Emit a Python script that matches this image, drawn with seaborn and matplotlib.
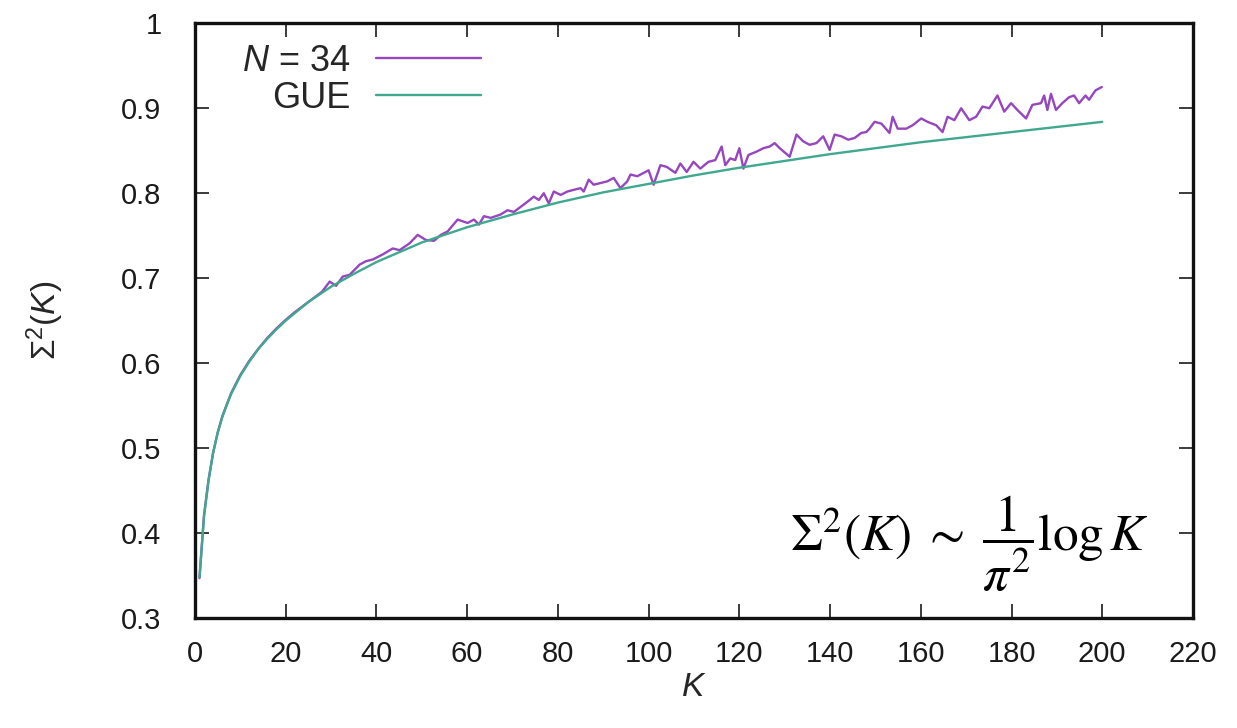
import numpy as np
import pandas as pd
import matplotlib
matplotlib.use("Agg")
import matplotlib.pyplot as plt
import seaborn as sns

# ---- data ----
gue_k = [1, 2, 3, 4, 5, 6, 7, 8, 10, 12, 14, 16, 18, 20, 25, 30, 35, 40, 50, 60,
         70, 80, 90, 100, 110, 120, 130, 140, 150, 160, 170, 180, 190, 200]
gue_v = [0.348, 0.420, 0.462, 0.495, 0.518, 0.536, 0.551, 0.564, 0.585, 0.602,
         0.617, 0.629, 0.640, 0.650, 0.672, 0.690, 0.705, 0.719, 0.742, 0.760,
         0.775, 0.789, 0.801, 0.811, 0.821, 0.830, 0.838, 0.846, 0.853, 0.860,
         0.866, 0.872, 0.878, 0.884]

n34_k = [1, 2, 3, 4, 5, 6, 8, 10, 12, 14, 16, 18, 20, 22, 24, 26, 28,
         29.7, 31.1, 32.6, 34.1, 36.3, 37.7, 39.2, 41.4, 43.6, 45.1, 47.3, 49.1, 50.9,
         52.7, 54.2, 55.7, 57.9, 60.1, 61.5, 62.6, 63.7, 65.2, 67.4, 68.9, 70.3,
         71.8, 73.3, 74.7, 75.8, 76.9, 78.0, 79.1, 80.6, 82.1, 83.5, 85.0, 85.7,
         86.8, 87.9, 89.4, 90.9, 92.3, 93.8, 95.3, 96.0, 97.5, 98.9, 100.0, 101.1,
         102.6, 104.0, 105.9, 107.0, 108.4, 109.9, 111.4, 113.2, 114.7, 116.1,
         116.9, 118.0, 119.1, 120.0, 120.9, 122.0, 123.8, 125.3, 126.7, 127.8,
         128.9, 131.1, 132.6, 134.1, 135.5, 137.0, 138.5, 139.9, 141.0, 142.5,
         144.0, 145.4, 146.9, 148.0, 148.7, 149.8, 151.3, 153.1, 153.8, 154.9,
         156.8, 158.2, 160.1, 161.5, 163.4, 164.8, 165.9, 167.4, 168.9, 170.7,
         172.2, 173.6, 175.1, 176.9, 178.4, 179.9, 181.3, 183.2, 184.6, 186.5,
         187.2, 187.9, 188.7, 189.8, 191.2, 192.7, 193.8, 194.9, 196.3, 197.1,
         198.5, 199.9]
n34_v = [0.347, 0.421, 0.463, 0.494, 0.518, 0.537, 0.565, 0.586, 0.603, 0.617,
         0.630, 0.641, 0.651, 0.660, 0.668, 0.676, 0.684,
         0.696, 0.691, 0.702, 0.704, 0.716, 0.720, 0.722, 0.728, 0.735, 0.733,
         0.741, 0.751, 0.745,
         0.744, 0.751, 0.755, 0.769, 0.765, 0.769, 0.763, 0.773, 0.771, 0.775,
         0.780, 0.778, 0.784, 0.790, 0.796, 0.792, 0.800, 0.788, 0.802, 0.798,
         0.802, 0.804, 0.806, 0.802, 0.816, 0.810, 0.812, 0.814, 0.818, 0.806,
         0.814, 0.822, 0.820, 0.824, 0.827, 0.810,
         0.833, 0.831, 0.824, 0.835, 0.825, 0.837, 0.829, 0.837, 0.839, 0.855,
         0.833, 0.841, 0.839, 0.853, 0.829, 0.845, 0.849, 0.853, 0.855, 0.859,
         0.853, 0.843, 0.869, 0.861, 0.857, 0.859, 0.867, 0.851, 0.869, 0.867,
         0.863, 0.865, 0.871, 0.872, 0.876, 0.884, 0.882, 0.871, 0.890, 0.876,
         0.876, 0.880, 0.888, 0.884, 0.880, 0.872, 0.890, 0.886, 0.900, 0.886,
         0.890, 0.902, 0.900, 0.915, 0.896, 0.906, 0.898, 0.888, 0.904, 0.906,
         0.915, 0.898, 0.917, 0.898, 0.906, 0.913, 0.915, 0.906, 0.915, 0.910,
         0.921, 0.925]

x_ticks = [0, 20, 40, 60, 80, 100, 120, 140, 160, 180, 200, 220]
y_ticks = [0.3, 0.4, 0.5, 0.6, 0.7, 0.8, 0.9, 1.0]
y_tick_labels = ["0.3", "0.4", "0.5", "0.6", "0.7", "0.8", "0.9", "1"]

df_gue = pd.DataFrame({"K": gue_k, "S": gue_v})
df_n34 = pd.DataFrame({"K": n34_k, "S": n34_v})

sns.set_theme(style="ticks")
plt.rcParams["font.family"] = ["Liberation Sans", "DejaVu Sans"]
plt.rcParams["mathtext.fontset"] = "custom"
plt.rcParams["mathtext.rm"] = "Liberation Sans"
plt.rcParams["mathtext.it"] = "Liberation Sans:italic"
plt.rcParams["mathtext.bf"] = "Liberation Sans:bold"

fig = plt.figure(figsize=(12.37, 7.28), dpi=100)
ax = fig.add_axes([0.1576, 0.151, 0.8068, 0.817])

purple = "#9646bf"
teal = "#3fa88f"
sns.lineplot(data=df_n34, x="K", y="S", ax=ax, color=purple, lw=1.7,
             label=r"$N$ = 34")
sns.lineplot(data=df_gue, x="K", y="S", ax=ax, color=teal, lw=1.7,
             label="GUE")

ax.set_xlim(0, 220)
ax.set_ylim(0.3, 1.0)
ax.set_xticks(x_ticks)
ax.set_xticklabels([str(t) for t in x_ticks])
ax.set_yticks(y_ticks)
ax.set_yticklabels(y_tick_labels)
ax.tick_params(direction="in", length=10, width=1.2, top=True, right=True,
               labelsize=21, colors="#1a1a1a")
ax.tick_params(axis="y", pad=24)
ax.tick_params(axis="x", pad=16)
for s in ax.spines.values():
    s.set_linewidth(2.4)
    s.set_color("#111111")

ax.set_xlabel(r"$K$", fontsize=24, labelpad=3)
ax.set_ylabel(r"$\Sigma^2(K)$", fontsize=24, labelpad=40)

leg = ax.legend(loc="upper left", bbox_to_anchor=(0.015, 1.02), frameon=False,
                markerfirst=False, fontsize=26, handlelength=2.9,
                handletextpad=0.7, labelspacing=0.05)

ax.text(0.596, 0.114, r"$\Sigma^2(K)\;\sim\;\dfrac{1}{\pi^2}\log K$",
        transform=ax.transAxes, fontsize=37, ha="left", va="baseline",
        math_fontfamily="stix", color="black")

fig.savefig("out.png", dpi=100)
